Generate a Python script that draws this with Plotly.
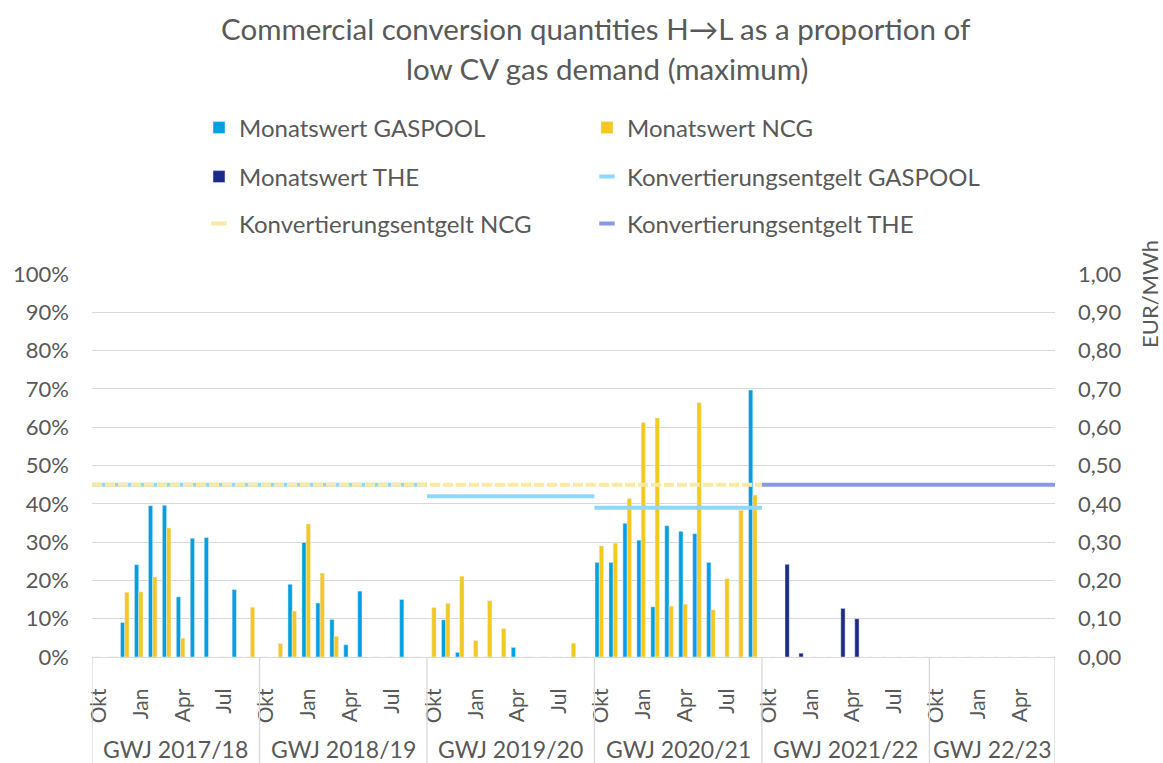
import plotly.graph_objects as go

# ---------------- data ----------------
years = ["GWJ 2017/18", "GWJ 2018/19", "GWJ 2019/20", "GWJ 2020/21", "GWJ 2021/22", "GWJ 22/23"]
months_per_year = [12, 12, 12, 12, 12, 9]
month_names = ["Okt", "Nov", "Dez", "Jan", "Feb", "Mär", "Apr", "Mai", "Jun", "Jul", "Aug", "Sep"]
labeled_months = ["Okt", "Jan", "Apr", "Jul"]

# monthly values in % (per gas year, Okt..Sep)
gaspool_1718 = [0, 0, 9.0, 24.1, 39.5, 39.6, 15.7, 31.0, 31.2, 0, 17.6, 0]
gaspool_1819 = [0, 0, 19.0, 29.9, 14.1, 9.8, 3.2, 17.2, 0, 0, 15.0, 0]
gaspool_1920 = [0, 9.7, 1.2, 0, 0, 0, 2.5, 0, 0, 0, 0, 0]
gaspool_2021 = [24.7, 24.7, 34.9, 30.5, 13.1, 34.3, 32.8, 32.2, 24.7, 0, 0, 69.7]

ncg_1718 = [0, 0, 16.9, 17.0, 20.9, 33.7, 4.9, 0, 0, 0, 0, 13.0]
ncg_1819 = [0, 3.5, 12.0, 34.7, 21.9, 5.4, 0, 0, 0, 0, 0, 0]
ncg_1920 = [12.9, 14.0, 21.1, 4.3, 14.7, 7.4, 0, 0, 0, 0, 3.6, 0]
ncg_2021 = [29.0, 29.7, 41.4, 61.2, 62.4, 13.3, 13.8, 66.4, 12.3, 20.5, 38.3, 42.3]

the_2122 = [0, 24.2, 1.0, 0, 0, 12.7, 10.0, 0, 0, 0, 0, 0]
the_2223 = [0, 0, 0, 0, 0, 0, 0, 0, 0]

# conversion fees in EUR/MWh per gas year
fee_gaspool = [0.45, 0.45, 0.42, 0.39, None, None]
fee_ncg = [0.45, 0.45, 0.45, 0.45, None, None]
fee_the = [None, None, None, None, 0.45, 0.45]

# ---------------- derived ----------------
n_months = sum(months_per_year)
none12 = [None] * 12
gaspool = gaspool_1718 + gaspool_1819 + gaspool_1920 + gaspool_2021 + none12 + [None] * 9
ncg = ncg_1718 + ncg_1819 + ncg_1920 + ncg_2021 + none12 + [None] * 9
the = none12 * 4 + the_2122 + the_2223

x_mid = [i + 0.5 for i in range(n_months)]
bounds = [0]
for m in months_per_year:
    bounds.append(bounds[-1] + m)


def pct(v):
    return [None if a is None else a / 100 for a in v]


def segments(fees):
    xs, ys = [], []
    i = 0
    while i < len(fees):
        if fees[i] is None:
            i += 1
            continue
        j = i
        while j + 1 < len(fees) and fees[j + 1] == fees[i]:
            j += 1
        xs += [bounds[i], bounds[j + 1], None]
        ys += [fees[i], fees[i], None]
        i = j + 1
    return xs, ys


tickvals, ticktext = [], []
for y, m in enumerate(months_per_year):
    for k in range(m):
        if month_names[k] in labeled_months:
            tickvals.append(bounds[y] + k + 0.5)
            ticktext.append(month_names[k])

FONT = "Lato, 'Open Sans', sans-serif"
TXT = "#595959"
GRID = "#D9D9D9"
C_GP, C_NCG, C_THE = "#00A0E3", "#F4C81D", "#1B2A88"
C_FGP, C_FNCG, C_FTHE = "#8ED8F8", "#FBE9A3", "#8A96E8"

# figure geometry (body margin removed via post_script)
W, H = 1163, 763
ML, MR, MT, MB = 92, 108, 274, 106
PW, PH = W - ML - MR, H - MT - MB


def px_x(fx):
    return (fx - ML) / PW


def px_y(fy):
    return 1 + (MT - fy) / PH


fig = go.Figure()
fig.add_trace(go.Bar(x=x_mid, y=pct(gaspool), name="Monatswert GASPOOL",
                     marker_color=C_GP, legend="legend"))
fig.add_trace(go.Bar(x=x_mid, y=pct(ncg), name="Monatswert NCG",
                     marker_color=C_NCG, legend="legend2"))
fig.add_trace(go.Bar(x=x_mid, y=pct(the), name="Monatswert THE",
                     marker_color=C_THE, legend="legend3"))

gx, gy = segments(fee_gaspool)
fig.add_trace(go.Scatter(x=gx, y=gy, mode="lines", name="Konvertierungsentgelt GASPOOL",
                         line=dict(color=C_FGP, width=4), yaxis="y2", showlegend=False))
nx, ny = segments(fee_ncg)
fig.add_trace(go.Scatter(x=nx, y=ny, mode="lines", name="Konvertierungsentgelt NCG",
                         line=dict(color=C_FNCG, width=4, dash="10px,3px"), yaxis="y2",
                         showlegend=False))
tx, ty = segments(fee_the)
fig.add_trace(go.Scatter(x=tx, y=ty, mode="lines", name="Konvertierungsentgelt THE",
                         line=dict(color=C_FTHE, width=4), yaxis="y2", showlegend=False))

# legend-only entries with short line symbols
for name, col, lg in [("Konvertierungsentgelt GASPOOL", C_FGP, "legend4"),
                      ("Konvertierungsentgelt NCG", C_FNCG, "legend5"),
                      ("Konvertierungsentgelt THE", C_FTHE, "legend6")]:
    fig.add_trace(go.Scatter(x=[None], y=[None], mode="markers", name=name, yaxis="y2",
                             marker=dict(symbol="line-ew-open", size=11, color=col,
                                         line=dict(color=col, width=4)),
                             legend=lg, hoverinfo="skip"))

shapes = []
for b in bounds:
    shapes.append(dict(type="line", xref="x", yref="paper", x0=b, x1=b, y0=0, y1=-MB / PH,
                       line=dict(color=GRID, width=1.3)))

annotations = [
    dict(text="Commercial conversion quantities H\u2192L as a proportion of", xref="paper",
         yref="paper", x=px_x(596), y=px_y(28), showarrow=False,
         font=dict(size=29.5, color=TXT), xanchor="center", yanchor="middle"),
    dict(text="low CV gas demand (maximum)", xref="paper", yref="paper",
         x=px_x(607), y=px_y(68), showarrow=False, font=dict(size=29.5, color=TXT),
         xanchor="center", yanchor="middle"),
    dict(text="EUR/MWh", xref="paper", yref="paper", x=px_x(1149), y=px_y(294),
         textangle=-90, showarrow=False, font=dict(size=22, color=TXT),
         xanchor="center", yanchor="middle"),
]
for y, name in enumerate(years):
    annotations.append(dict(text=name, xref="x", yref="paper", x=(bounds[y] + bounds[y + 1]) / 2,
                            y=px_y(749), showarrow=False, font=dict(size=23, color=TXT),
                            xanchor="center", yanchor="middle"))

leg = dict(orientation="h", xanchor="left", yanchor="middle", bgcolor="rgba(0,0,0,0)",
           font=dict(size=24, color=TXT, family=FONT), itemclick=False, itemdoubleclick=False)
c1, c2 = px_x(240 - 41), px_x(628 - 41)
r1, r2, r3 = px_y(128), px_y(177), px_y(224)

fig.update_layout(
    width=W, height=H,
    margin=dict(l=ML, r=MR, t=MT, b=MB),
    paper_bgcolor="white", plot_bgcolor="white",
    font=dict(family=FONT, color=TXT, size=22),
    separators=",.",
    barmode="group", bargap=0.08, bargroupgap=0,
    showlegend=True,
    legend=dict(leg, x=c1, y=r1),
    legend2=dict(leg, x=c2, y=r1),
    legend3=dict(leg, x=c1, y=r2),
    legend4=dict(leg, x=c2, y=r2),
    legend5=dict(leg, x=c1, y=r3),
    legend6=dict(leg, x=c2, y=r3),
    xaxis=dict(range=[0, n_months], tickvals=tickvals, ticktext=ticktext, tickangle=-90,
               showgrid=False, zeroline=False, showline=True, linecolor=GRID, linewidth=1.3,
               ticks="", ticklabelstandoff=22, tickfont=dict(size=21, color=TXT)),
    yaxis=dict(range=[0, 1], dtick=0.1, tickformat=".0%", showgrid=True, gridcolor=GRID,
               gridwidth=1.3, zeroline=False, ticks="", ticklabelstandoff=22,
               tickfont=dict(size=22, color=TXT)),
    yaxis2=dict(range=[0, 1], dtick=0.1, tickformat=".2f", overlaying="y", side="right",
                showgrid=False, zeroline=False, ticks="", ticklabelstandoff=22,
                tickfont=dict(size=22, color=TXT)),
    shapes=shapes, annotations=annotations,
)

fig.write_html("out.html", config={"displayModeBar": False},
               post_script="document.body.style.margin='0';document.body.style.overflow='hidden';")
